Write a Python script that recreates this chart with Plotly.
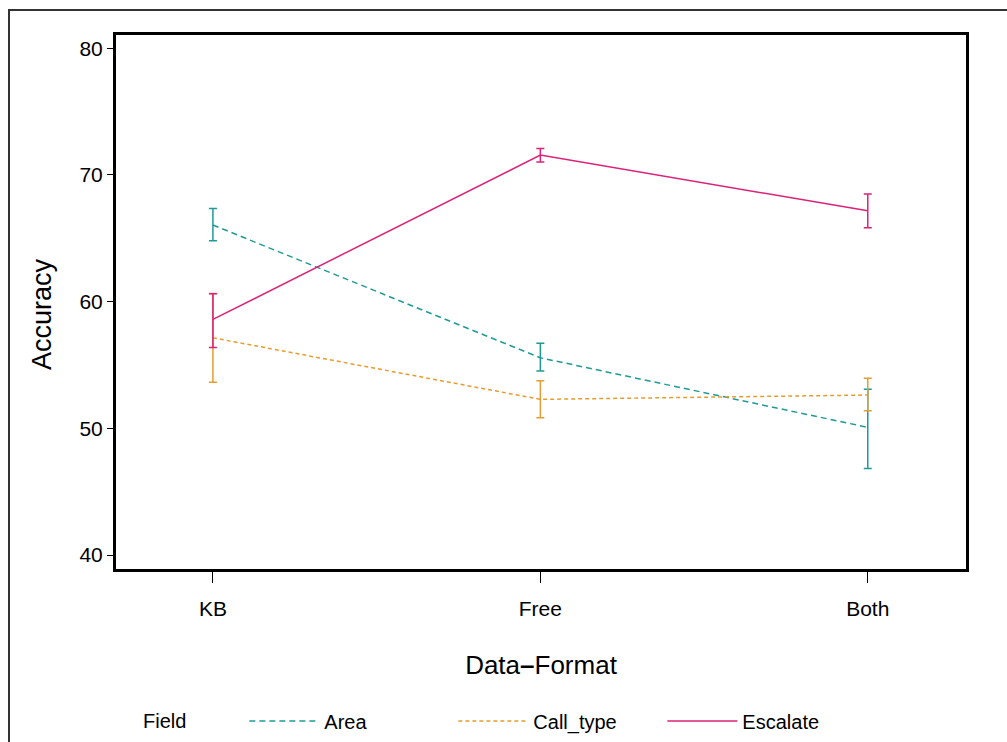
import plotly.graph_objects as go

# Data: mean accuracy with upper/lower limits per field and data format
formats = ["KB", "Free", "Both"]
fields = ["Area", "Call_type", "Escalate"]

area_mean = [66.05, 55.57, 50.08]
area_upper = [67.36, 56.71, 53.08]
area_lower = [64.80, 54.52, 46.84]

call_mean = [57.15, 52.29, 52.63]
call_upper = [60.65, 53.76, 53.95]
call_lower = [53.65, 50.84, 51.39]

esc_mean = [58.60, 71.57, 67.17]
esc_upper = [60.62, 72.10, 68.49]
esc_lower = [56.39, 71.02, 65.83]

y_ticks = [40, 50, 60, 70, 80]

colors = {"Area": "#1f9a96", "Call_type": "#e49d30", "Escalate": "#dc2178"}
dashes = {"Area": "6px,4px", "Call_type": "4px,3px", "Escalate": "solid"}

series = {
    "Area": (area_mean, area_upper, area_lower),
    "Call_type": (call_mean, call_upper, call_lower),
    "Escalate": (esc_mean, esc_upper, esc_lower),
}

W, H = 1007, 742
L, R, T, B = 116, 41, 35, 173
pw, ph = W - L - R, H - T - B


def px_x(x):
    return (x - L) / pw


def px_y(y):
    return (H - B - y) / ph


FONT = "Liberation Sans, Arial, sans-serif"

fig = go.Figure()
xpos = list(range(len(formats)))
for name in fields:
    mean, up, lo = series[name]
    fig.add_trace(go.Scatter(
        x=xpos, y=mean, name=name, mode="lines",
        line=dict(color=colors[name], width=1.5, dash=dashes[name]),
        error_y=dict(
            type="data", symmetric=False,
            array=[u - m for u, m in zip(up, mean)],
            arrayminus=[m - l for m, l in zip(mean, lo)],
            color=colors[name], thickness=1.5, width=4,
        ),
    ))

fig.update_layout(
    width=W, height=H,
    margin=dict(l=L, r=R, t=T, b=B, autoexpand=False),
    paper_bgcolor="white", plot_bgcolor="white",
    font=dict(family=FONT, color="black", size=21),
    showlegend=True,
    legend=dict(
        orientation="h", x=px_x(141), y=px_y(721),
        xanchor="left", yanchor="middle",
        title=dict(text="Field         ", side="left", font=dict(size=20)),
        font=dict(size=20), itemwidth=70,
        entrywidth=124, entrywidthmode="pixels",
        bgcolor="rgba(0,0,0,0)",
    ),
    xaxis=dict(
        range=[-0.296, 2.3], tickmode="array", tickvals=xpos, ticktext=formats,
        showgrid=False, zeroline=False,
        showline=True, mirror=True, linecolor="black", linewidth=3,
        ticks="outside", ticklen=11, tickwidth=1, tickcolor="black",
        tickfont=dict(size=21), ticklabelstandoff=8,
        title=dict(text="Data<b>\u2013</b>Format", font=dict(size=26), standoff=37),
    ),
    yaxis=dict(
        range=[38.9, 81.05], tickmode="array", tickvals=y_ticks,
        showgrid=False, zeroline=False,
        showline=True, mirror=True, linecolor="black", linewidth=3,
        ticks="outside", ticklen=6, tickwidth=1, tickcolor="black",
        tickfont=dict(size=21),
    ),
    annotations=[dict(
        text="Accuracy", textangle=-90, xref="paper", yref="paper",
        x=px_x(42), y=px_y(314), xanchor="center", yanchor="middle",
        showarrow=False, font=dict(size=27),
    )],
    shapes=[dict(
        type="rect", xref="paper", yref="paper",
        x0=px_x(9), x1=px_x(1030), y0=px_y(770), y1=px_y(10),
        line=dict(color="#333333", width=2), layer="below",
    )],
)

fig.write_html("out.html")
